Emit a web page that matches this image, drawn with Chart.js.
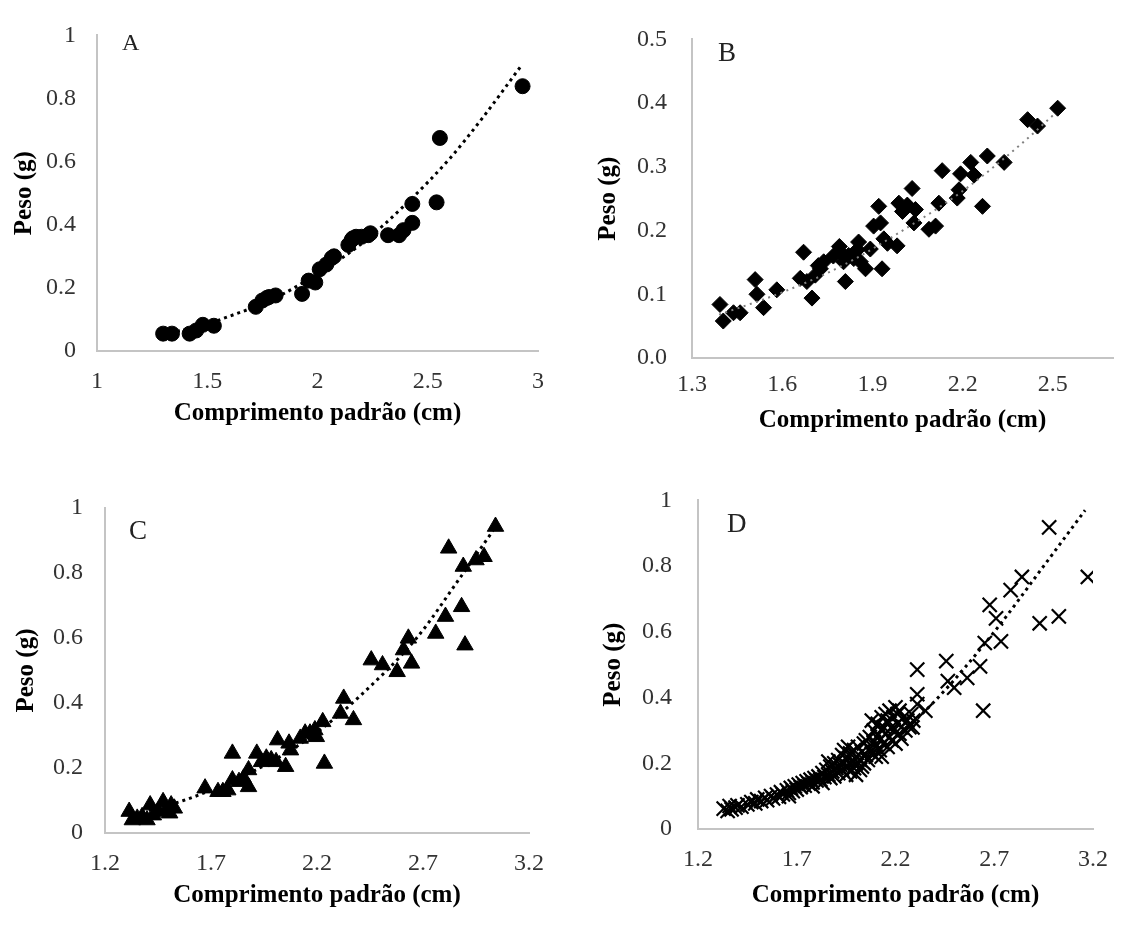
<!DOCTYPE html>
<html><head><meta charset="utf-8">
<script src="https://cdn.jsdelivr.net/npm/chart.js@4.4.0/dist/chart.umd.min.js"></script>
<style>
html,body{margin:0;padding:0;background:#fff;width:1124px;height:927px;overflow:hidden;}
canvas{position:absolute;}
</style></head><body>
<canvas id="cA" width="560" height="460" style="left:0;top:0"></canvas>
<canvas id="cB" width="554" height="460" style="left:570px;top:0"></canvas>
<canvas id="cC" width="560" height="467" style="left:0;top:460px"></canvas>
<canvas id="cD" width="554" height="467" style="left:570px;top:460px"></canvas>
<script>
// ---------- tick values & labels ----------
const xTicksA = [1, 1.5, 2, 2.5, 3];
const xLabelsA = ['1', '1.5', '2', '2.5', '3'];
const xTicksB = [1.3, 1.6, 1.9, 2.2, 2.5];
const xLabelsB = ['1.3', '1.6', '1.9', '2.2', '2.5'];
const xTicksCD = [1.2, 1.7, 2.2, 2.7, 3.2];
const xLabelsCD = ['1.2', '1.7', '2.2', '2.7', '3.2'];
const yTicks1 = [0, 0.2, 0.4, 0.6, 0.8, 1];
const yLabels1 = ['0', '0.2', '0.4', '0.6', '0.8', '1'];
const yTicksB = [0, 0.1, 0.2, 0.3, 0.4, 0.5];
const yLabelsB = ['0.0', '0.1', '0.2', '0.3', '0.4', '0.5'];
const xTitle = 'Comprimento padrão (cm)';
const yTitle = 'Peso (g)';
const panelLetters = ['A', 'B', 'C', 'D'];

// ---------- data: [comprimento, peso] ----------
const pointsA = [[1.30,0.055],[1.34,0.055],[1.42,0.055],[1.45,0.065],[1.48,0.083],[1.53,0.08],
  [1.72,0.14],[1.75,0.16],[1.77,0.168],[1.78,0.171],[1.81,0.176],[1.93,0.181],[1.96,0.223],[1.99,0.217],
  [2.01,0.259],[2.04,0.274],[2.065,0.295],[2.075,0.30],[2.14,0.336],[2.155,0.352],[2.16,0.357],[2.175,0.362],
  [2.20,0.362],[2.23,0.367],[2.24,0.373],[2.32,0.367],[2.37,0.367],[2.39,0.383],[2.43,0.406],
  [2.43,0.466],[2.54,0.471],[2.555,0.675],[2.93,0.839]];
const trendA = [[1.30,0.055],[1.45,0.075],[1.6,0.11],[1.8,0.165],[2.0,0.245],[2.2,0.34],[2.4,0.465],
  [2.6,0.61],[2.75,0.74],[2.92,0.9]];

const pointsB = [[1.393,0.084],[1.404,0.058],[1.438,0.071],[1.46,0.071],[1.51,0.123],[1.516,0.10],
  [1.538,0.079],[1.582,0.107],[1.671,0.166],[1.66,0.125],[1.682,0.12],[1.699,0.094],[1.71,0.13],
  [1.72,0.145],[1.727,0.14],[1.738,0.151],[1.77,0.16],[1.79,0.175],[1.793,0.166],[1.81,0.12],[1.804,0.151],
  [1.821,0.161],[1.838,0.156],[1.85,0.17],[1.854,0.182],[1.86,0.151],[1.877,0.14],[1.893,0.171],
  [1.904,0.207],[1.921,0.238],[1.927,0.212],[1.938,0.187],[1.932,0.14],[1.95,0.18],[1.982,0.176],
  [1.988,0.243],[2.0,0.23],[2.016,0.24],[2.032,0.266],[2.038,0.212],[2.043,0.233],[2.088,0.202],
  [2.11,0.207],[2.121,0.243],[2.132,0.294],[2.182,0.251],[2.188,0.264],[2.193,0.289],[2.227,0.307],
  [2.238,0.287],[2.266,0.238],[2.282,0.317],[2.338,0.307],[2.416,0.374],[2.449,0.364],[2.516,0.392]];
const trendB = [[1.39,0.068],[1.6,0.103],[1.8,0.145],[2.0,0.2],[2.2,0.262],[2.4,0.338],[2.51,0.385]];

const pointsC = [[1.314,0.066],[1.329,0.04],[1.352,0.045],[1.375,0.05],[1.398,0.04],[1.413,0.086],
  [1.428,0.055],[1.451,0.066],[1.474,0.096],[1.489,0.071],[1.505,0.061],[1.512,0.086],[1.527,0.076],
  [1.672,0.138],[1.733,0.127],[1.756,0.127],[1.779,0.132],[1.801,0.163],[1.801,0.245],[1.832,0.158],
  [1.854,0.168],[1.877,0.194],[1.877,0.142],[1.916,0.245],[1.938,0.219],[1.961,0.23],[1.984,0.225],
  [2.007,0.219],[2.014,0.286],[2.052,0.204],[2.068,0.276],[2.075,0.255],[2.121,0.291],[2.144,0.307],
  [2.167,0.307],[2.19,0.317],[2.197,0.296],[2.227,0.342],[2.235,0.214],[2.311,0.368],[2.326,0.414],
  [2.372,0.348],[2.456,0.532],[2.509,0.517],[2.578,0.496],[2.608,0.563],[2.631,0.599],[2.646,0.522],
  [2.76,0.614],[2.806,0.666],[2.821,0.876],[2.882,0.696],[2.89,0.82],[2.898,0.578],[2.95,0.84],
  [2.988,0.85],[3.042,0.943]];
const trendC = [[1.31,0.054],[1.57,0.1],[1.8,0.16],[2.0,0.225],[2.2,0.31],[2.4,0.42],[2.67,0.6],
  [2.88,0.79],[3.03,0.93]];

const pointsD = [[1.33,0.062],[1.35,0.055],[1.36,0.07],[1.37,0.06],[1.39,0.065],[1.40,0.072],[1.42,0.068],
  [1.45,0.075],[1.47,0.082],[1.49,0.078],[1.50,0.09],[1.52,0.085],[1.54,0.095],[1.55,0.088],[1.57,0.1],
  [1.58,0.093],[1.60,0.105],[1.61,0.098],[1.62,0.112],[1.63,0.105],[1.65,0.118],[1.66,0.11],[1.66,0.1],
  [1.67,0.125],[1.68,0.115],[1.69,0.13],[1.70,0.12],[1.71,0.135],[1.72,0.127],[1.73,0.14],[1.74,0.132],
  [1.75,0.145],[1.76,0.138],[1.77,0.15],[1.78,0.142],[1.78,0.13],[1.79,0.155],[1.80,0.148],[1.81,0.16],
  [1.82,0.15],[1.83,0.17],[1.83,0.14],[1.84,0.158],[1.85,0.18],[1.86,0.165],[1.86,0.205],[1.87,0.19],
  [1.87,0.155],[1.88,0.175],[1.89,0.2],[1.89,0.16],[1.90,0.185],[1.91,0.17],[1.91,0.21],[1.92,0.195],
  [1.93,0.18],[1.93,0.225],[1.94,0.2],[1.94,0.24],[1.95,0.165],[1.95,0.215],[1.96,0.19],[1.96,0.25],
  [1.97,0.23],[1.97,0.175],[1.98,0.205],[1.99,0.24],[1.99,0.185],[2.00,0.22],[2.00,0.2],[2.00,0.165],
  [2.01,0.25],[2.02,0.21],[2.02,0.18],[2.03,0.235],[2.03,0.19],[2.04,0.26],[2.04,0.2],[2.05,0.225],
  [2.05,0.27],[2.06,0.21],[2.07,0.245],[2.07,0.28],[2.08,0.23],[2.08,0.33],[2.09,0.265],[2.09,0.3],
  [2.10,0.22],[2.10,0.25],[2.11,0.285],[2.11,0.32],[2.12,0.24],[2.12,0.27],[2.13,0.3],[2.13,0.34],
  [2.13,0.22],[2.14,0.26],[2.14,0.31],[2.15,0.29],[2.15,0.35],[2.16,0.25],[2.16,0.33],[2.17,0.28],
  [2.17,0.36],[2.18,0.31],[2.18,0.27],[2.19,0.34],[2.19,0.3],[2.20,0.37],[2.20,0.26],[2.21,0.32],
  [2.21,0.35],[2.22,0.29],[2.22,0.36],[2.23,0.31],[2.23,0.275],[2.24,0.34],[2.25,0.3],[2.26,0.33],
  [2.27,0.31],[2.28,0.35],[2.29,0.33],[2.286,0.309],[2.31,0.38],[2.31,0.485],[2.31,0.41],[2.351,0.36],
  [2.457,0.511],[2.465,0.45],[2.497,0.43],[2.563,0.46],[2.628,0.495],[2.644,0.36],[2.652,0.566],
  [2.677,0.682],[2.709,0.641],[2.734,0.571],[2.783,0.727],[2.84,0.767],[2.93,0.626],[2.978,0.918],
  [3.027,0.647],[3.174,0.767]];
const trendD = [[1.33,0.057],[1.6,0.1],[1.9,0.17],[2.2,0.28],[2.4,0.39],[2.7,0.6],[2.95,0.8],[3.16,0.97]];

// ---------- helpers ----------
const toXY = arr => arr.map(p => ({x: p[0], y: p[1]}));

const letterPlugin = {
  id: 'panelLetter',
  afterDraw(chart, args, o) {
    const {ctx, chartArea} = chart;
    ctx.save();
    ctx.font = o.size + 'px "Liberation Serif", "Times New Roman", serif';
    ctx.fillStyle = '#222';
    ctx.textBaseline = 'alphabetic';
    ctx.textAlign = 'left';
    ctx.fillText(o.text, chartArea.left + o.dx, chartArea.top + o.dy);
    ctx.restore();
  }
};

const serif = '"Liberation Serif", "Times New Roman", serif';

function panel(id, cfg) {
  const trendColor = cfg.trendColor || '#000';
  new Chart(document.getElementById(id), {
    type: 'scatter',
    data: {
      datasets: [
        {
          data: toXY(cfg.trend), showLine: true, pointRadius: 0,
          borderColor: trendColor, borderWidth: cfg.trendWidth, borderDash: cfg.trendDash,
          cubicInterpolationMode: 'monotone', fill: false
        },
        {
          data: toXY(cfg.points), pointStyle: cfg.style, pointRadius: cfg.radius,
          backgroundColor: '#000', borderColor: '#000', borderWidth: cfg.pointBorder, showLine: false
        }
      ]
    },
    options: {
      responsive: false, animation: false, events: [],
      layout: {padding: {top: cfg.padTop, right: cfg.padRight, left: 0, bottom: 0}},
      plugins: {
        legend: {display: false}, tooltip: {enabled: false},
        panelLetter: cfg.letter
      },
      scales: {
        x: {
          type: 'linear', min: cfg.xMin, max: cfg.xMax,
          grid: {display: false, drawTicks: false},
          border: {display: true, color: '#c4c4c4', width: 2},
          afterBuildTicks: s => { s.ticks = cfg.xTicks.map(v => ({value: v})); },
          afterFit: s => { s.height = cfg.xH; },
          ticks: {
            autoSkip: false, maxRotation: 0, padding: cfg.xTickPad, color: '#333',
            font: {family: serif, size: 24},
            callback: (v, i) => cfg.xLabels[i]
          },
          title: {
            display: true, text: xTitle, color: '#000',
            font: {family: serif, size: 25, weight: 'bold'},
            padding: {top: 0, bottom: cfg.xTitlePad}
          }
        },
        y: {
          type: 'linear', min: 0, max: cfg.yMax,
          grid: {display: false, drawTicks: false},
          border: {display: true, color: '#c4c4c4', width: 2},
          afterBuildTicks: s => { s.ticks = cfg.yTicks.map(v => ({value: v})); },
          afterFit: s => { s.width = cfg.yW; },
          ticks: {
            autoSkip: false, padding: cfg.yTickPad, color: '#333',
            font: {family: serif, size: 24},
            callback: (v, i) => cfg.yLabels[i]
          },
          title: {
            display: true, text: yTitle, color: '#000',
            font: {family: serif, size: 25, weight: 'bold'},
            padding: {top: cfg.yTitlePad, bottom: 0}
          }
        }
      }
    },
    plugins: [letterPlugin]
  });
}

panel('cA', {
  points: pointsA, trend: trendA, style: 'circle', radius: 7.5, pointBorder: 1,
  trendWidth: 3, trendDash: [3, 4],
  xMin: 1, xMax: 3, yMax: 1, xTicks: xTicksA, xLabels: xLabelsA, yTicks: yTicks1, yLabels: yLabels1,
  padTop: 25, padRight: 13, yW: 97, xH: 109, yTickPad: 21, yTitlePad: 10, xTickPad: 16, xTitlePad: 31,
  letter: {text: panelLetters[0], size: 24, dx: 25, dy: 15}
});
panel('cB', {
  points: pointsB, trend: trendB, style: 'rectRot', radius: 8, pointBorder: 1,
  trendWidth: 2, trendDash: [2, 4.5], trendColor: '#808080',
  xMin: 1.3, xMax: 2.7, yMax: 0.5, xTicks: xTicksB, xLabels: xLabelsB, yTicks: yTicksB, yLabels: yLabelsB,
  padTop: 28, padRight: 11, yW: 122, xH: 102, yTickPad: 25, yTitlePad: 24, xTickPad: 12, xTitlePad: 24,
  letter: {text: panelLetters[1], size: 27, dx: 26, dy: 22}
});
panel('cC', {
  points: pointsC, trend: trendC, style: 'triangle', radius: 9.5, pointBorder: 1,
  trendWidth: 3, trendDash: [3, 4],
  xMin: 1.2, xMax: 3.2, yMax: 1, xTicks: xTicksCD, xLabels: xLabelsCD, yTicks: yTicks1, yLabels: yLabels1,
  padTop: 48, padRight: 17, yW: 105, xH: 94, yTickPad: 22, yTitlePad: 12, xTickPad: 16, xTitlePad: 16,
  letter: {text: panelLetters[2], size: 27, dx: 24, dy: 31}
});
panel('cD', {
  points: pointsD, trend: trendD, style: 'crossRot', radius: 10, pointBorder: 2.2,
  trendWidth: 3, trendDash: [3, 4],
  xMin: 1.2, xMax: 3.2, yMax: 1, xTicks: xTicksCD, xLabels: xLabelsCD, yTicks: yTicks1, yLabels: yLabels1,
  padTop: 32, padRight: 17, yW: 128, xH: 98, yTickPad: 26, yTitlePad: 29, xTickPad: 16, xTitlePad: 16,
  letter: {text: panelLetters[3], size: 27, dx: 29, dy: 32}
});
</script>
</body></html>
